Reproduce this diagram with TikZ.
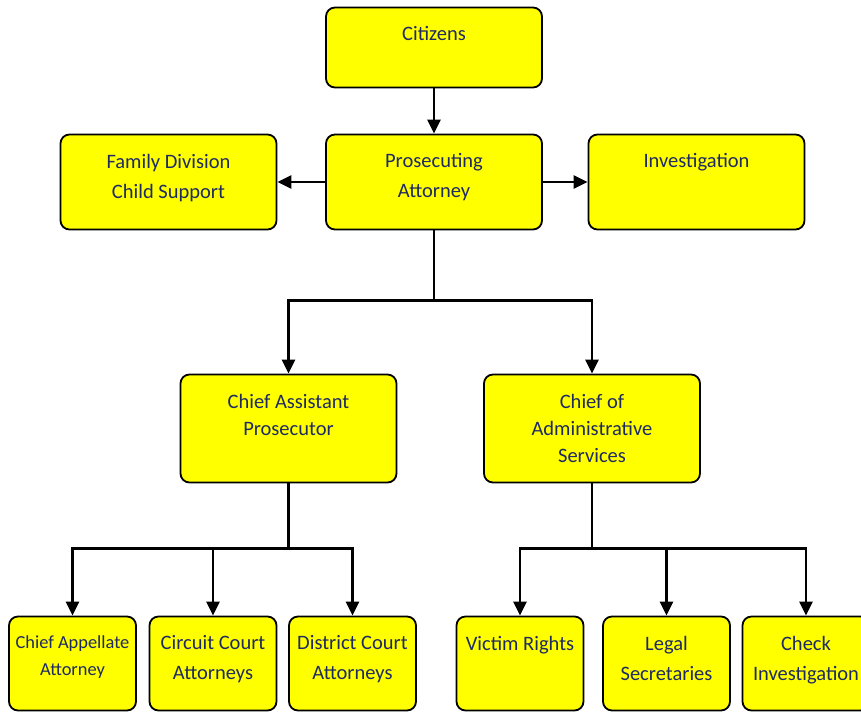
\documentclass[tikz,border=0pt]{standalone}
\usepackage{fontspec}
\setmainfont{Carlito}
\usepackage{tikz}
\usetikzlibrary{arrows.meta,positioning}
\definecolor{labelblue}{RGB}{30,42,98}
\definecolor{boxyellow}{RGB}{255,255,0}

\begin{document}
\begin{tikzpicture}[x=1pt, y=1pt, on grid,
    office/.style={draw, line width=1.8pt, rounded corners=9pt, fill=boxyellow,
      minimum width=216pt, minimum height=95pt, inner sep=0pt},
    small/.style={office, minimum width=127pt, minimum height=94pt},
    boxtext/.style={anchor=north, yshift=-20pt, inner sep=0pt, align=center,
      text=labelblue, font=\fontsize{20.5}{30}\selectfont},
    link/.style={line width=2.8pt, -{Triangle[length=14pt,width=13pt]}}]
    \useasboundingbox (0,0) rectangle (861,-713);
    % top
    \node[office, minimum height=80pt, label={[boxtext]north:Citizens}] (cit) at (434,-47.5) {};
    \node[office, label={[boxtext]north:{Prosecuting\\Attorney}}] (pa) [below=134.5pt of cit] {};
    \node[office, label={[boxtext]north:{Family Division\\Child Support}}] (fam) [left=265.5pt of pa] {};
    \node[office, label={[boxtext]north:Investigation}] (inv) [right=262.5pt of pa] {};
    % chiefs
    \node[office, minimum height=108pt,
      label={[boxtext, font=\fontsize{20.5}{27}\selectfont]north:{Chief Assistant\\Prosecutor}}] (cap)
      [below left=246.5pt and 145.5pt of pa] {};
    \node[office, minimum height=108pt,
      label={[boxtext, font=\fontsize{20.5}{27}\selectfont]north:{Chief of\\Administrative\\Services}}] (cas)
      [below right=246.5pt and 158pt of pa] {};
    % bottom row
    \node[small, label={[boxtext, font=\fontsize{18.4}{27}\selectfont]north:{Chief Appellate\\Attorney}}] (app)
      [below left=235pt and 216pt of cap] {};
    \node[small, label={[boxtext]north:{Circuit Court\\Attorneys}}] (cir) [below left=235pt and 75.5pt of cap] {};
    \node[small, label={[boxtext]north:{District Court\\Attorneys}}] (dis) [below right=235pt and 64pt of cap] {};
    \node[small, label={[boxtext]north:Victim Rights}] (vic) [below left=235pt and 72pt of cas] {};
    \node[small, label={[boxtext]north:{Legal\\Secretaries}}] (leg) [below right=235pt and 74.5pt of cas] {};
    \node[small, label={[boxtext]north:{Check\\Investigation}}] (chk) [below right=235pt and 214pt of cas] {};
    \path[link]
      (cit) edge (pa)
      (pa) edge (fam)
      (pa) edge (inv)
      ;
    \draw[link] (pa.south) -- ++(0,-70) -| (cap.north);
    \draw[link] (pa.south) -- ++(0,-70) -| (cas.north);
    \foreach \child in {app,cir,dis}
      \draw[link] (cap.south) -- ++(0,-65) -| (\child.north);
    \foreach \child in {vic,leg,chk}
      \draw[link] (cas.south) -- ++(0,-65) -| (\child.north);
\end{tikzpicture}
\end{document}
